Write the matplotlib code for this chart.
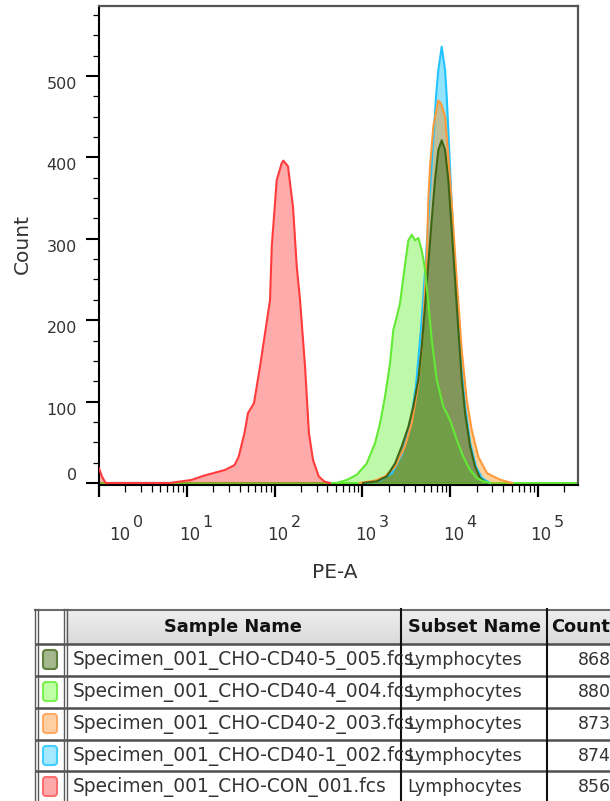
import numpy as np
import matplotlib
matplotlib.use('Agg')
import matplotlib.pyplot as plt
from matplotlib.transforms import blended_transform_factory, offset_copy
from matplotlib.patches import Rectangle, FancyBboxPatch
from matplotlib.ticker import FixedLocator, LogLocator, MultipleLocator, NullFormatter
from matplotlib.colors import LinearSegmentedColormap

plt.rcParams['font.family'] = ['DejaVu Sans']

# ---------------- data (PE-A value, count) ----------------
con_pe = [1.0, 1.08, 1.19, 6.4, 11.3, 15.3, 19.9, 27.2, 35, 38.9, 45.3, 49.8, 58.2, 68.2, 79.8,
          88.7, 92.7, 105.7, 120.5, 125.7, 142, 162, 178.6, 194.7, 222, 246, 274, 318, 371, 427]
con_count = [18, 8, 0, 0, 3.7, 8.6, 12, 16, 22, 32, 61, 86, 98, 143, 192,
             225, 290, 372, 393, 396, 389, 339, 266, 225, 143, 61, 28, 8, 1.6, 0]

cd40_1_pe = [1071, 1585, 2173, 2825, 3484, 4076, 4649, 5164, 5739, 6209, 6531, 6887, 7314, 7998,
             8730, 9120, 9510, 10210, 11350, 12940, 14750, 16810, 19660, 23030, 28390]
cd40_1_count = [0, 3, 12, 35, 70, 120, 190, 260, 340, 400, 434, 475, 507, 536,
                507, 475, 434, 360, 260, 160, 95, 50, 20, 6, 0]

cd40_2_pe = [939, 1393, 1808, 2351, 3056, 3670, 4297, 4771, 5164, 5444, 5634, 5888, 6423, 7314,
             7852, 8730, 9510, 10400, 11860, 13520, 15420, 17570, 20910, 26250, 36900, 50550]
cd40_2_count = [0, 3, 8, 20, 45, 75, 120, 170, 237, 290, 348, 389, 438, 470,
                466, 450, 401, 344, 249, 163, 102, 65, 32, 12, 4, 0]

cd40_4_pe = [510, 662, 861, 1120, 1393, 1585, 1808, 2062, 2249, 2459, 2681, 2924, 3334, 3642, 3972,
             4331, 4733, 5164, 5634, 6151, 7015, 8337, 9954, 11860, 14100, 16810, 20040, 23830, 28390]
cd40_4_count = [0, 3.7, 10, 24, 49, 73, 106, 147, 188, 204, 221, 253, 298, 305, 298,
                301, 286, 262, 221, 176, 127, 94, 77, 53, 32, 16, 6, 2, 0]

cd40_5_pe = [1016, 1456, 1891, 2351, 2805, 3334, 3800, 4331, 4733, 5164, 5634, 6151, 6712, 7314,
             7998, 8730, 9510, 10400, 11350, 12370, 13520, 14750, 16810, 19150, 21850, 26060]
cd40_5_count = [0, 2, 8, 24, 45, 69, 94, 127, 167, 217, 270, 323, 372, 409,
                421, 409, 372, 311, 249, 188, 127, 86, 45, 20, 6, 0]

x_tick_exponents = [0, 1, 2, 3, 4, 5]
y_ticks = [0, 100, 200, 300, 400, 500]

sample_names = ['Specimen_001_CHO-CD40-5_005.fcs', 'Specimen_001_CHO-CD40-4_004.fcs',
                'Specimen_001_CHO-CD40-2_003.fcs', 'Specimen_001_CHO-CD40-1_002.fcs',
                'Specimen_001_CHO-CON_001.fcs']
subset_names = ['Lymphocytes'] * 5
event_counts = ['8686', '8800', '8739', '8743', '8565']
header = ['Sample Name', 'Subset Name', 'Count']

# styles
swatch_fill = ['#a3b88c', '#bfffa6', '#ffcfa3', '#a6e8ff', '#ffaaaa']
swatch_edge = ['#62803f', '#7cf050', '#ffaa66', '#44d0ff', '#ff6e6e']

# ---------------- figure ----------------
fig = plt.figure(figsize=(6.10, 8.01), dpi=100)
ax = fig.add_axes([99/610, 1-485.4/801, (578-99)/610, (485.4-6)/801])

series = [
    (con_pe, con_count, '#ff0000', 0.33, '#ff3b3b'),
    (cd40_1_pe, cd40_1_count, '#00bfff', 0.42, '#22c4ff'),
    (cd40_2_pe, cd40_2_count, '#ff8c00', 0.40, '#ff9a3c'),
    (cd40_4_pe, cd40_4_count, '#5af028', 0.40, '#62ea34'),
    (cd40_5_pe, cd40_5_count, '#5a7a32', 0.60, '#3f6514'),
]
ax.axhline(0, color='#62ea34', lw=1.5, zorder=1)
for pe, cnt, fc, a, lc in series:
    ax.fill_between(pe, cnt, 0, color=fc, alpha=a, lw=0, zorder=2)
for idx in [0, 1, 2, 4, 3]:
    pe, cnt, fc, a, lc = series[idx]
    ax.plot(pe, cnt, color=lc, lw=1.5, zorder=3, solid_joinstyle='round')

ax.set_xscale('log')
ax.set_xlim(1, 10**5.455)
ax.set_ylim(-3, 586)

ax.xaxis.set_major_locator(FixedLocator([10.0**k for k in x_tick_exponents]))
ax.xaxis.set_minor_locator(LogLocator(base=10, subs=np.arange(2, 10), numticks=50))
ax.xaxis.set_major_formatter(NullFormatter())
ax.xaxis.set_minor_formatter(NullFormatter())
ax.yaxis.set_major_locator(FixedLocator(y_ticks))
ax.yaxis.set_minor_locator(MultipleLocator(25))
ax.tick_params(axis='y', which='major', length=9.4, width=1.5, color='black', labelleft=False, direction='out')
ax.tick_params(axis='y', which='minor', length=4.6, width=0.9, color='black', direction='out')
ax.tick_params(axis='x', which='major', length=8.6, width=1.6, color='black', labelbottom=False, direction='out')
ax.tick_params(axis='x', which='minor', length=5.0, width=0.9, color='black', direction='out')

for s in ['left', 'bottom']:
    ax.spines[s].set_color('black')
    ax.spines[s].set_linewidth(1.5)
for s in ['top', 'right']:
    ax.spines[s].set_color('#555555')
    ax.spines[s].set_linewidth(1.6)

txt_col = '#333333'
# y tick labels
ytrans = blended_transform_factory(ax.transAxes, ax.transData)
for v in y_ticks:
    if v == 0:
        t = offset_copy(ytrans, fig=fig, x=-22, y=0, units='dots')
        ax.text(0, v, str(v), transform=t, ha='right', va='bottom', fontsize=11.5, color=txt_col)
    else:
        t = offset_copy(ytrans, fig=fig, x=-22, y=-1, units='dots')
        ax.text(0, v, str(v), transform=t, ha='right', va='top', fontsize=11.5, color=txt_col)

# x tick labels (10 with superscript exponent)
xtrans = blended_transform_factory(ax.transData, ax.transAxes)
for k in x_tick_exponents:
    dx = 21 if k == 0 else 3
    t1 = offset_copy(xtrans, fig=fig, x=dx, y=-50, units='dots')
    ax.text(10.0**k, 0, '10', transform=t1, ha='center', va='center', fontsize=12, color=txt_col)
    t2 = offset_copy(xtrans, fig=fig, x=dx+18, y=-37, units='dots')
    ax.text(10.0**k, 0, str(k), transform=t2, ha='center', va='center', fontsize=11.5, color=txt_col)

fig.text(22/610, 1-244/801, 'Count', rotation=90, ha='center', va='center', fontsize=14.5, color=txt_col)
fig.text(335/610, 1-572/801, 'PE-A', ha='center', va='center', fontsize=14.5, color=txt_col)

# ---------------- table ----------------
tax = fig.add_axes([0, 0, 1, 1])
tax.axis('off')
grad = LinearSegmentedColormap.from_list('hdr', ['#eeeeee', '#dadada'])
tax.imshow(np.linspace(0, 1, 40)[:, None], extent=(66, 612, 644, 610), cmap=grad, aspect='auto', zorder=0)

row_lines = [644, 676, 708, 740, 771]
for yl in row_lines:
    tax.plot([35, 612], [yl, yl], color='#4f4f4f', lw=1.8, zorder=3, solid_capstyle='butt')
tax.plot([35, 612], [609.5, 609.5], color='#6a6a6a', lw=1.5, zorder=3)
for xl in [34.5, 37.5, 63.5, 66.5]:
    tax.plot([xl, xl], [609, 805], color='#5a5a5a', lw=1.0, zorder=3)
for xl in [400.7, 546.7]:
    tax.plot([xl, xl], [609, 805], color='#111111', lw=1.5, zorder=3)

tax.text(232.5, 627, header[0], ha='center', va='center', fontsize=12.8, fontweight='bold', color='#111111')
tax.text(474, 627, header[1], ha='center', va='center', fontsize=12.8, fontweight='bold', color='#111111')
tax.text(551, 627, header[2], ha='left', va='center', fontsize=12.8, fontweight='bold', color='#111111')

row_tops = [644, 676, 708, 740, 771]
clip1 = Rectangle((67, 600), 332, 210, transform=tax.transData)
for i, top in enumerate(row_tops):
    yc = top + 16
    sw = FancyBboxPatch((43, top + 6), 14, 19, boxstyle='round,pad=0,rounding_size=3',
                        facecolor=swatch_fill[i], edgecolor=swatch_edge[i], lw=1.5, zorder=4)
    tax.add_patch(sw)
    t = tax.text(73, yc, sample_names[i], ha='left', va='center', fontsize=13.4, color=txt_col)
    t.set_clip_path(clip1)
    tax.text(407, yc, subset_names[i], ha='left', va='center', fontsize=12.5, color=txt_col)
    tax.text(578, yc, event_counts[i], ha='left', va='center', fontsize=12.5, color=txt_col)

tax.set_xlim(0, 610)
tax.set_ylim(801, 0)

fig.savefig('out.png', dpi=100)
